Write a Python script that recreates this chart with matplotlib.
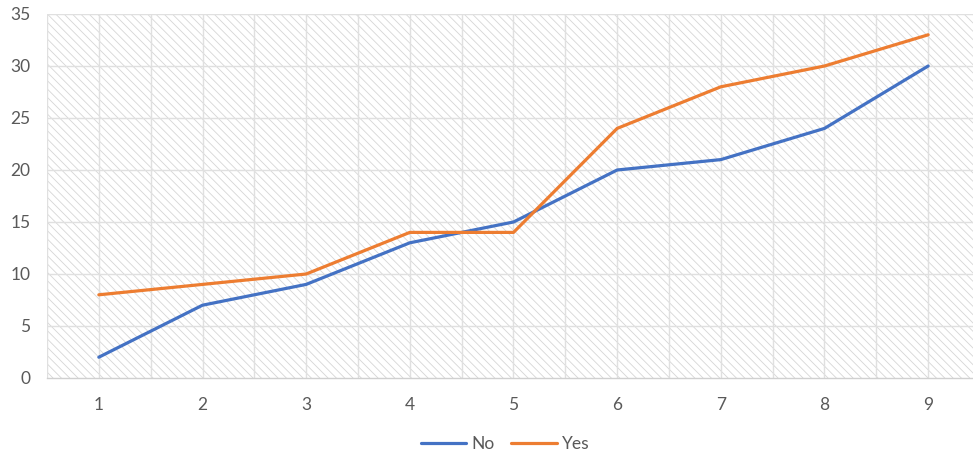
import matplotlib
matplotlib.use("Agg")
import matplotlib.pyplot as plt
from matplotlib.patches import Rectangle

# series values per category
categories = [1, 2, 3, 4, 5, 6, 7, 8, 9]
no_values = [2, 7, 9, 13, 15, 20, 21, 24, 30]
yes_values = [8, 9, 10, 14, 14, 24, 28, 30, 33]
y_ticks = [0, 5, 10, 15, 20, 25, 30, 35]

plt.rcParams['font.family'] = ['Lato', 'DejaVu Sans']
plt.rcParams['hatch.linewidth'] = 0.6
plt.rcParams['hatch.color'] = '#d6d6d6'

fig = plt.figure(figsize=(9.73, 4.57), dpi=100)
ax = fig.add_axes([47 / 973, 1 - 378 / 457, 933 / 973, 364 / 457])

# hatched plot area background
ax.add_patch(Rectangle((0, 0), 1, 1, transform=ax.transAxes, facecolor='white',
                       edgecolor='#d6d6d6', hatch='\\\\\\\\', lw=0, zorder=0))

ax.plot(categories, no_values, color='#4472C4', lw=2.3, label='No',
        solid_capstyle='round', zorder=3)
ax.plot(categories, yes_values, color='#ED7D31', lw=2.3, label='Yes',
        solid_capstyle='round', zorder=3)

ax.set_xlim(0.5, 9.5)
ax.set_ylim(0, 35)
ax.set_yticks(y_ticks)
ax.set_xticks(categories)

# gridlines at every half category and every 5 units
for x in [c - 0.5 for c in categories] + categories:
    ax.axvline(x, color='#e0e0e0', lw=1, zorder=1)
for y in y_ticks[1:]:
    ax.axhline(y, color='#e0e0e0', lw=1, zorder=1)

for side in ['top', 'right', 'left']:
    ax.spines[side].set_visible(False)
ax.spines['bottom'].set_color('#d0d0d0')
ax.spines['bottom'].set_linewidth(1)
ax.spines['bottom'].set_zorder(2)

ax.tick_params(axis='both', length=0, labelsize=12.5, colors='#595959')
ax.tick_params(axis='x', pad=14)
ax.tick_params(axis='y', pad=12)

fig.legend(loc='center', bbox_to_anchor=(505 / 973, 1 - 444 / 457), ncol=2,
           frameon=False, fontsize=12.5, handlelength=2.6, handletextpad=0.3,
           columnspacing=1.0, labelcolor='#595959')

fig.savefig('out.png', dpi=100, facecolor='white')
